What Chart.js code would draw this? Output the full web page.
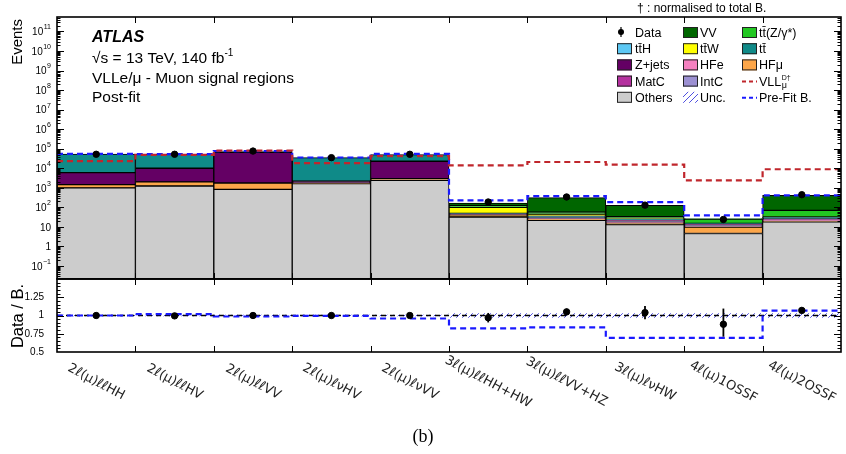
<!DOCTYPE html>
<html>
<head>
<meta charset="utf-8">
<script src="https://cdn.jsdelivr.net/npm/chart.js@4.4.1/dist/chart.umd.min.js"></script>
<style>
  body { margin: 0; background: #fff; }
  #wrap { position: relative; width: 846px; height: 454px; }
  canvas { position: absolute; left: 0; top: 0; }
</style>
</head>
<body>
<div id="wrap">
  <canvas id="main" width="846" height="454"></canvas>
  <canvas id="ratio" width="846" height="454"></canvas>
</div>
<script>
// regions (bins)
const regions = ['2ℓ(μ)ℓℓHH', '2ℓ(μ)ℓℓHV', '2ℓ(μ)ℓℓVV', '2ℓ(μ)ℓνHV', '2ℓ(μ)ℓνVV',
                 '3ℓ(μ)ℓℓHH+HW', '3ℓ(μ)ℓℓVV+HZ', '3ℓ(μ)ℓνHW', '4ℓ(μ)1OSSF', '4ℓ(μ)2OSSF'];

// post-fit backgrounds, events per region (stacked bottom -> top)
const others = [1000, 1240, 840, 1640, 2400, 32, 22, 13, 4.6, 18];
const hfMu   = [450, 760, 920, 100, 550, 10, 3, 3, 5.2, 2];
const hfE    = [0, 0, 0, 0, 0, 2, 1.5, 2, 1.5, 2];
const intC   = [0, 0, 0, 0, 0, 1, 1, 1, 1.5, 1];
const matC   = [0, 0, 0, 0, 0, 1, 1.5, 3, 1.5, 3];
const zJets  = [4550, 8000, 64000, 460, 20000, 0, 0, 0, 0, 0];
const ttbar  = [47000, 42000, 9000, 33000, 27000, 2, 5, 3, 1, 4];
const ttH    = [0, 0, 0, 0, 0, 1, 1, 1, 0, 1];
const ttW    = [0, 0, 0, 0, 0, 50, 10, 2, 0, 1];
const ttZ    = [0, 0, 0, 0, 0, 22, 12, 5, 10, 38];
const vv     = [0, 0, 0, 0, 0, 46, 260, 93, 1.5, 345];

const dataObs   = [52000, 52000, 76000, 35000, 52000, 188, 340, 130, 24, 445];
const vllSignal = [23000, 48000, 80000, 18500, 42000, 14000, 21000, 15500, 2400, 8900];
const preFitB   = [54000, 52500, 75000, 35500, 54000, 230, 380, 187, 39, 415];

// ratio panel
const ratioData    = [1.0, 0.995, 1.0, 1.0, 1.0, 0.97, 1.05, 1.04, 0.88, 1.07];
const ratioErrUp   = [0.005, 0.005, 0.004, 0.005, 0.005, 0.065, 0.045, 0.09, 0.215, 0.04];
const ratioErrDown = [0.005, 0.005, 0.004, 0.005, 0.005, 0.065, 0.045, 0.09, 0.17, 0.04];
const ratioPreFit  = [1.0, 1.018, 0.986, 0.995, 0.959, 0.823, 0.836, 0.694, 0.694, 1.068];
const uncBand      = [0.006, 0.006, 0.006, 0.006, 0.006, 0.025, 0.025, 0.025, 0.025, 0.025];

// tick labels
const yTickLabels = ['10^-1', '1', '10', '10^2', '10^3', '10^4', '10^5', '10^6', '10^7', '10^8', '10^9', '10^10', '10^11'];
const yTickValues = [0.1, 1, 10, 1e2, 1e3, 1e4, 1e5, 1e6, 1e7, 1e8, 1e9, 1e10, 1e11];
const ratioTickValues = [0.5, 0.75, 1, 1.25];
const ratioTickLabels = ['0.5', '0.75', '1', '1.25'];

const bkgLabels  = ['Others', 'HFμ', 'HFe', 'IntC', 'MatC', 'Z+jets', 'tt\u0304', 'tt\u0304H', 'tt\u0304W', 'tt\u0304(Z/γ*)', 'VV'];
const bkgValues  = [others, hfMu, hfE, intC, matC, zJets, ttbar, ttH, ttW, ttZ, vv];
const bkgColours = ['#cccccc', '#fca64a', '#f480bf', '#9c90d2', '#b5309f', '#640064', '#0f8a88', '#5cc8f4', '#ffff00', '#22c722', '#006600'];

const SANS = '"Liberation Sans", Arial, Helvetica, sans-serif';
const nBins = regions.length;

function binPoints(vals) {
  return vals.map((v, i) => ({ x: i + 0.5, y: v }));
}
function stepPoints(vals) {
  const pts = vals.map((v, i) => ({ x: i, y: v }));
  pts.push({ x: vals.length, y: vals[vals.length - 1] });
  return pts;
}
function makeHatch(ctx, colour) {
  const c = document.createElement('canvas');
  c.width = 6; c.height = 6;
  const g = c.getContext('2d');
  g.strokeStyle = colour;
  g.lineWidth = 1;
  g.beginPath();
  g.moveTo(-1, 7); g.lineTo(7, -1);
  g.moveTo(-1, 1); g.lineTo(1, -1);
  g.moveTo(5, 7); g.lineTo(7, 5);
  g.stroke();
  return ctx.createPattern(c, 'repeat');
}
function line(ctx, x1, y1, x2, y2) {
  ctx.beginPath(); ctx.moveTo(x1, y1); ctx.lineTo(x2, y2); ctx.stroke();
}

// frame + inside ticks, ATLAS style
function drawFrame(chart, yMajor, yMinor) {
  const { ctx, chartArea: a, scales } = chart;
  ctx.save();
  ctx.strokeStyle = '#000';
  ctx.lineWidth = 1;
  for (let i = 1; i < nBins; i++) {
    const x = Math.round(scales.x.getPixelForValue(i)) + 0.5;
    line(ctx, x, a.bottom, x, a.bottom - 6);
    line(ctx, x, a.top, x, a.top + 6);
  }
  yMajor.forEach(v => {
    const y = Math.round(scales.y.getPixelForValue(v)) + 0.5;
    if (y <= a.top + 1 || y >= a.bottom - 1) return;
    line(ctx, a.left, y, a.left + 7, y);
    line(ctx, a.right, y, a.right - 7, y);
  });
  yMinor.forEach(v => {
    const y = Math.round(scales.y.getPixelForValue(v)) + 0.5;
    if (y <= a.top + 1 || y >= a.bottom - 1) return;
    line(ctx, a.left, y, a.left + 3.5, y);
    line(ctx, a.right, y, a.right - 3.5, y);
  });
  ctx.lineWidth = 1.6;
  ctx.strokeRect(a.left, a.top, a.right - a.left, a.bottom - a.top);
  ctx.restore();
}

const mainCanvas = document.getElementById('main');
const mainCtx = mainCanvas.getContext('2d');
const ratioCanvas = document.getElementById('ratio');
const ratioCtx = ratioCanvas.getContext('2d');
const hatchMain = makeHatch(mainCtx, '#5050e0');
const hatchRatio = makeHatch(ratioCtx, '#5050e0');

const mainDecor = {
  id: 'mainDecor',
  afterDraw(chart) {
    const { ctx, chartArea: a, scales } = chart;
    // log ticks
    const minor = [];
    for (let p = -2; p <= 11; p++) {
      for (let k = 2; k <= 9; k++) minor.push(k * Math.pow(10, p));
    }
    drawFrame(chart, yTickValues, minor);

    ctx.save();
    ctx.fillStyle = '#000';
    // y tick labels with exponents
    ctx.textBaseline = 'middle';
    yTickValues.forEach((v, i) => {
      const y = scales.y.getPixelForValue(v);
      const [base, exp] = yTickLabels[i].split('^');
      let x = 51;
      ctx.textAlign = 'right';
      if (exp) {
        ctx.font = '7px ' + SANS;
        ctx.fillText(exp.replace('-', '−'), x, y - 4);
        x -= ctx.measureText(exp.replace('-', '−')).width + 0.5;
      }
      ctx.font = '10px ' + SANS;
      ctx.fillText(base, x, y + 1);
    });

    // axis title
    ctx.save();
    ctx.translate(18, 19);
    ctx.rotate(-Math.PI / 2);
    ctx.font = '15px ' + SANS;
    ctx.textAlign = 'right';
    ctx.textBaseline = 'middle';
    ctx.fillText('Events', 0, 0);
    ctx.restore();

    // labels
    ctx.textAlign = 'left';
    ctx.textBaseline = 'alphabetic';
    ctx.font = 'italic bold 16px ' + SANS;
    ctx.fillText('ATLAS', 92, 42);
    ctx.font = '15.5px ' + SANS;
    const s1 = '√s = 13 TeV, 140 fb';
    ctx.fillText(s1, 92, 62.5);
    const w1 = ctx.measureText(s1).width;
    ctx.font = '10px ' + SANS;
    ctx.fillText('-1', 92 + w1, 56);
    ctx.font = '15.5px ' + SANS;
    ctx.fillText('VLLe/μ - Muon signal regions', 92, 83);
    ctx.fillText('Post-fit', 92, 102);

    ctx.font = '12px ' + SANS;
    ctx.fillText('† : normalised to total B.', 637, 12);

    // legend
    const cols = [
      ['Data', 'tt\u0304H', 'Z+jets', 'MatC', 'Others'],
      ['VV', 'tt\u0304W', 'HFe', 'IntC', 'Unc.'],
      ['tt\u0304(Z/γ*)', 'tt\u0304', 'HFμ', 'VLL', 'Pre-Fit B.']
    ];
    const colX = [617, 683, 742];
    cols.forEach((col, c) => {
      col.forEach((lab, r) => {
        const bx = colX[c];
        const base = 37 + r * 16.2;
        const ds = chart.data.datasets.find(d => d.label === lab);
        ctx.save();
        if (lab === 'Data') {
          ctx.fillStyle = '#000';
          ctx.strokeStyle = '#000';
          ctx.lineWidth = 1.2;
          line(ctx, bx + 4, base - 10, bx + 4, base);
          ctx.beginPath(); ctx.arc(bx + 4, base - 5, 3, 0, Math.PI * 2); ctx.fill();
        } else if (lab === 'Unc.') {
          ctx.fillStyle = hatchMain;
          ctx.fillRect(bx, base - 10, 15, 11);
        } else if (ds && ds.type === 'line') {
          ctx.strokeStyle = ds.borderColor;
          ctx.lineWidth = 2;
          ctx.setLineDash([4, 3]);
          line(ctx, bx, base - 4, bx + 15, base - 4);
        } else if (ds) {
          ctx.fillStyle = ds.backgroundColor;
          ctx.fillRect(bx, base - 10, 15, 11);
          ctx.strokeStyle = '#222';
          ctx.lineWidth = 1;
          ctx.strokeRect(bx + 0.5, base - 9.5, 14, 10);
        }
        ctx.restore();
        ctx.fillStyle = '#000';
        ctx.font = '12.5px ' + SANS;
        const tx = bx + (c === 0 ? 18 : 17);
        if (lab === 'VLL') {
          ctx.fillText('VLL', tx, base);
          const w = ctx.measureText('VLL').width;
          ctx.font = '9px ' + SANS;
          ctx.fillText('μ', tx + w + 0.5, base + 2.5);
          ctx.font = '7px ' + SANS;
          ctx.fillText('D†', tx + w + 0.5, base - 6);
        } else {
          ctx.fillText(lab, tx, base);
        }
      });
    });
    ctx.restore();
  }
};

const ratioDecor = {
  id: 'ratioDecor',
  afterDatasetsDraw(chart) {
    const { ctx, scales } = chart;
    const meta = chart.getDatasetMeta(0);
    ctx.save();
    ctx.strokeStyle = '#000';
    ctx.lineWidth = 1.8;
    meta.data.forEach((pt, i) => {
      const yUp = scales.y.getPixelForValue(ratioData[i] + ratioErrUp[i]);
      const yDn = scales.y.getPixelForValue(ratioData[i] - ratioErrDown[i]);
      line(ctx, pt.x, yUp, pt.x, yDn);
    });
    ctx.restore();
  },
  afterDraw(chart) {
    const { ctx, scales } = chart;
    const minor = [];
    for (let v = 0.55; v < 1.5; v += 0.05) minor.push(+v.toFixed(2));
    drawFrame(chart, ratioTickValues.concat([1.5]), minor);
    ctx.save();
    ctx.fillStyle = '#000';
    // axis title
    ctx.save();
    ctx.translate(18, 316);
    ctx.rotate(-Math.PI / 2);
    ctx.font = '16.5px ' + SANS;
    ctx.textAlign = 'center';
    ctx.textBaseline = 'middle';
    ctx.fillText('Data / B.', 0, 0);
    ctx.restore();
    // region labels
    ctx.font = '13px "DejaVu Sans", ' + SANS;
    ctx.fillStyle = '#222';
    ctx.textAlign = 'center';
    ctx.textBaseline = 'middle';
    regions.forEach((r, i) => {
      const x = scales.x.getPixelForValue(i + 0.5);
      ctx.save();
      ctx.translate(x, 382);
      ctx.rotate(28 * Math.PI / 180);
      ctx.fillText(r, 0, 0);
      ctx.restore();
    });
    ctx.font = '18px "Liberation Serif", "Times New Roman", serif';
    ctx.fillStyle = '#000';
    ctx.fillText('(b)', 423, 437);
    ctx.restore();
  }
};

// main panel
const mainSets = [
  { type: 'line', label: 'Data', data: binPoints(dataObs), showLine: false, stack: 'data', order: 0,
    pointRadius: 3.2, pointBackgroundColor: '#000', pointBorderColor: '#000' },
  { type: 'line', label: 'VLL', data: stepPoints(vllSignal), stepped: true, stack: 'vll', order: 1,
    borderColor: '#c0262c', borderWidth: 2.2, borderDash: [6, 4], pointRadius: 0, fill: false },
  { type: 'line', label: 'Pre-Fit B.', data: stepPoints(preFitB), stepped: true, stack: 'pre', order: 1,
    borderColor: '#1a1aff', borderWidth: 2.2, borderDash: [6, 4], pointRadius: 0, fill: false }
];
bkgValues.forEach((vals, k) => {
  mainSets.push({
    type: 'bar', label: bkgLabels[k], data: binPoints(vals), stack: 'bkg', order: 2,
    backgroundColor: bkgColours[k], borderColor: '#000', borderWidth: 1, borderSkipped: false,
    categoryPercentage: 1, barPercentage: 1
  });
});

new Chart(mainCtx, {
  type: 'bar',
  data: { datasets: mainSets },
  options: {
    responsive: false,
    animation: false,
    events: [],
    layout: { padding: { left: 0, right: 1, top: 17, bottom: 175 } },
    plugins: { legend: { display: false }, tooltip: { enabled: false } },
    scales: {
      x: { type: 'linear', min: 0, max: nBins, offset: false, stacked: true, display: false },
      y: {
        type: 'logarithmic', min: 0.0216, max: 5.5e11, stacked: true,
        ticks: { display: false }, grid: { display: false }, border: { display: false },
        afterFit(s) { s.width = 57; }
      }
    }
  },
  plugins: [mainDecor]
});

// ratio panel
new Chart(ratioCtx, {
  type: 'bar',
  data: {
    datasets: [
      { type: 'line', label: 'Data', data: binPoints(ratioData), showLine: false, order: 0,
        pointRadius: 3.2, pointBackgroundColor: '#000', pointBorderColor: '#000' },
      { type: 'line', label: 'Pre-Fit B.', data: stepPoints(ratioPreFit), stepped: true, order: 1,
        borderColor: '#1a1aff', borderWidth: 2.2, borderDash: [6, 4], pointRadius: 0, fill: false },
      { type: 'line', label: 'one', data: [{ x: 0, y: 1 }, { x: nBins, y: 1 }], order: 2,
        borderColor: '#000', borderWidth: 1.5, borderDash: [5, 4], pointRadius: 0, fill: false },
      { type: 'bar', label: 'Unc.', data: ratioData.map((_, i) => ({ x: i + 0.5, y: [1 - uncBand[i], 1 + uncBand[i]] })),
        order: 3, backgroundColor: hatchRatio, borderWidth: 0, categoryPercentage: 1, barPercentage: 1 }
    ]
  },
  options: {
    responsive: false,
    animation: false,
    events: [],
    layout: { padding: { left: 0, right: 1, top: 279, bottom: 102 } },
    plugins: { legend: { display: false }, tooltip: { enabled: false } },
    scales: {
      x: { type: 'linear', min: 0, max: nBins, offset: false, display: false },
      y: {
        type: 'linear', min: 0.5, max: 1.5,
        afterBuildTicks(s) { s.ticks = ratioTickValues.map(v => ({ value: v })); },
        ticks: { padding: 5, color: '#000', font: { family: SANS, size: 10 },
                 callback: (v, i) => ratioTickLabels[i] },
        grid: { display: false }, border: { display: false },
        afterFit(s) { s.width = 57; }
      }
    }
  },
  plugins: [ratioDecor]
});
</script>
</body>
</html>
